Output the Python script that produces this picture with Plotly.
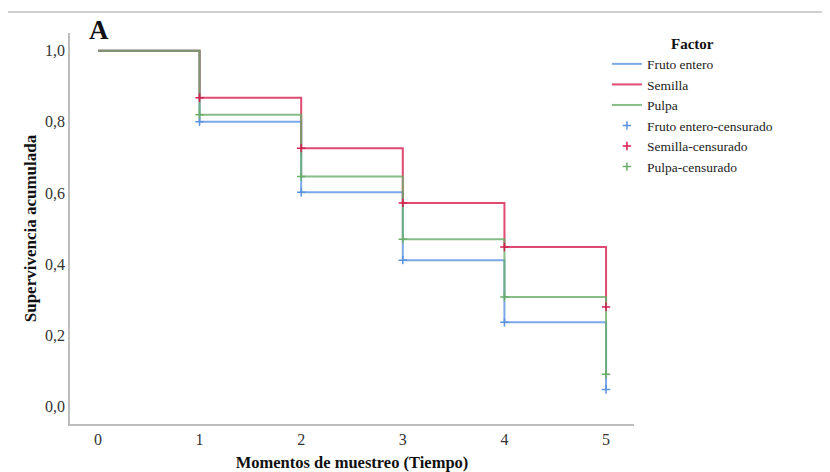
import plotly.graph_objects as go

times = [0, 1, 2, 3, 4, 5]
fruto_entero = [1.0, 0.80, 0.602, 0.411, 0.236, 0.047]
semilla = [1.0, 0.868, 0.726, 0.572, 0.448, 0.279]
pulpa = [1.0, 0.82, 0.646, 0.47, 0.307, 0.09]

series_names = ["Fruto entero", "Semilla", "Pulpa"]
series_values = [fruto_entero, semilla, pulpa]
colors = ["#5b93e0", "#d81e50", "#6aae6a"]

y_ticks = [0.0, 0.2, 0.4, 0.6, 0.8, 1.0]

FONT = "Liberation Serif, Times New Roman, serif"

fig = go.Figure()

for name, vals, col in zip(series_names, series_values, colors):
    fig.add_trace(go.Scatter(
        x=times, y=vals, mode="lines", name=name,
        line=dict(color=col, width=2, shape="hv"), opacity=0.8,
    ))

for name, vals, col in zip(series_names, series_values, colors):
    fig.add_trace(go.Scatter(
        x=times[1:], y=vals[1:], mode="markers", name=name + "-censurado",
        marker=dict(symbol="cross-thin", size=6, line=dict(color=col, width=1.5), color=col),
    ))

fig.update_layout(
    width=822, height=464,
    margin=dict(l=62, r=196, t=25, b=48, autoexpand=False),
    paper_bgcolor="white", plot_bgcolor="white",
    separators=",.",
    font=dict(family=FONT, color="#222222", size=14),
    showlegend=True,
    legend=dict(
        x=0.952, y=1.01, xanchor="left", yanchor="top",
        title=dict(text="<b>Factor</b>", side="top center", font=dict(size=15, family=FONT, color="#111111")),
        font=dict(size=13.5, family=FONT, color="#222222"),
        tracegroupgap=0, itemwidth=30, bgcolor="rgba(0,0,0,0)",
        traceorder="normal",
    ),
    xaxis=dict(
        range=[-0.275, 5.275], tickmode="array", tickvals=times,
        showline=True, linecolor="#bdbdbd", linewidth=1.5, showgrid=False, zeroline=False,
        ticks="", tickfont=dict(size=16, family=FONT, color="#333333"),
        title=dict(text="<b>Momentos de muestreo (Tiempo)</b>", font=dict(size=16.5, family=FONT, color="#111111"), standoff=10),
    ),
    yaxis=dict(
        range=[-0.05, 1.05], tickmode="array", tickvals=y_ticks, tickformat=".1f",
        showline=True, linecolor="#bdbdbd", linewidth=1.5, showgrid=False, zeroline=False,
        ticks="", ticklabelstandoff=0, tickfont=dict(size=16, family=FONT, color="#333333"),
        title=dict(text="<b>Supervivencia acumulada</b>", font=dict(size=17, family=FONT, color="#111111"), standoff=4),
    ),
    shapes=[dict(type="line", xref="paper", yref="paper", x0=-0.12, x1=1.35, y0=1.054, y1=1.054,
                 line=dict(color="#c0c0c0", width=1.5))],
    annotations=[dict(text="<b>A</b>", xref="paper", yref="paper", x=0.031, y=0.965, xanchor="left", yanchor="bottom",
                      showarrow=False, font=dict(size=27, family=FONT, color="#111111"))],
)

fig.write_html("out.html")
